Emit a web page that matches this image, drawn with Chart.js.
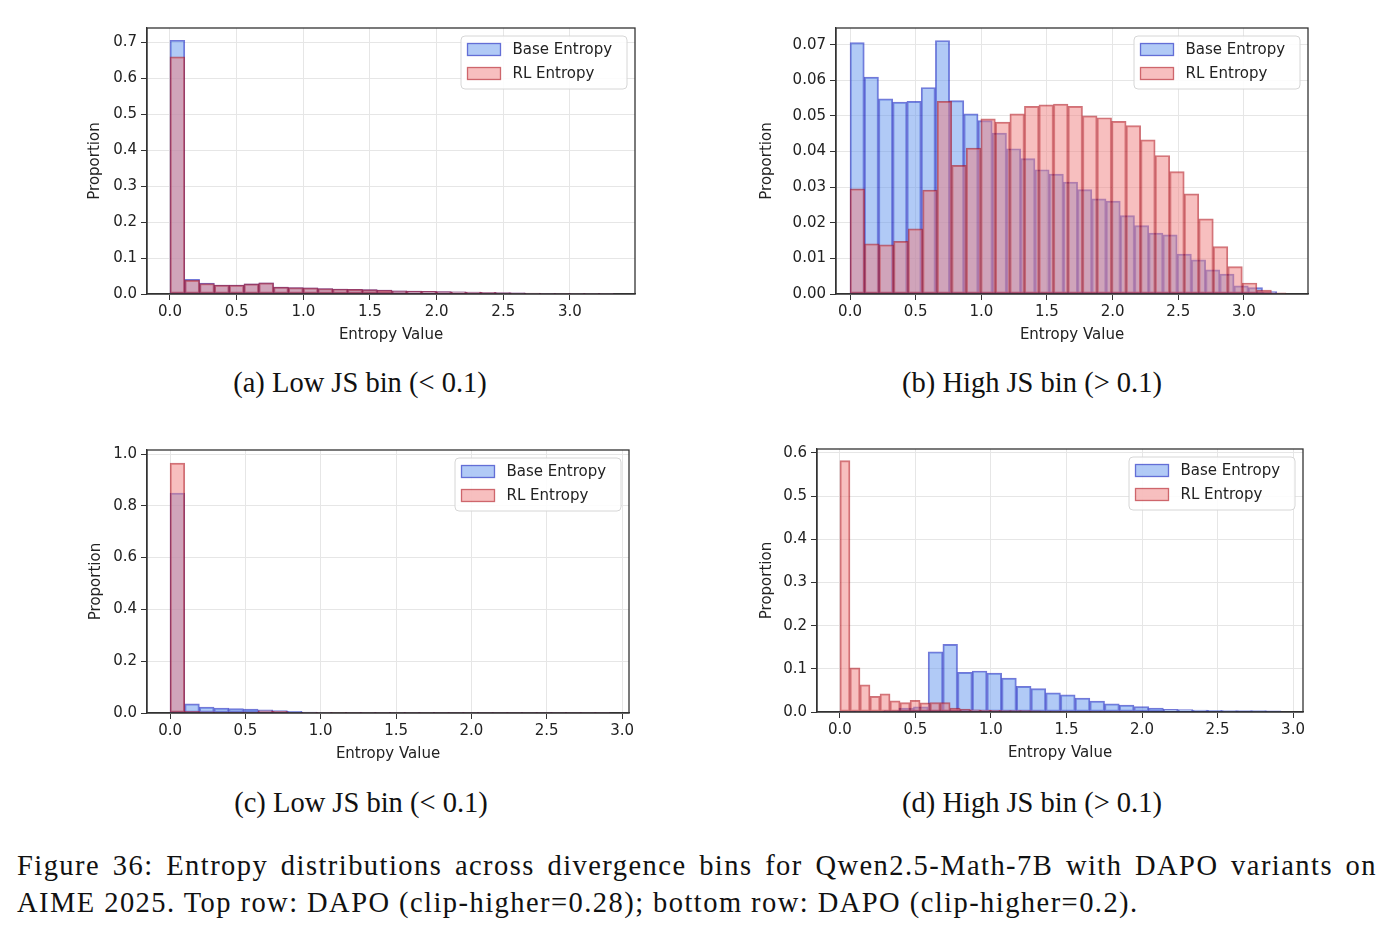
<!DOCTYPE html>
<html>
<head>
<meta charset="utf-8">
<script src="https://cdn.jsdelivr.net/npm/chart.js@4.4.1/dist/chart.umd.min.js"></script>
<style>
    body { margin: 0; background: #fff; width: 1393px; height: 947px; position: relative; overflow: hidden; }
    canvas { position: absolute; }
    .cap { position: absolute; font-family: 'Liberation Serif', 'Times New Roman', serif; font-size: 28.5px; line-height: 37px; color: #111; white-space: nowrap; }
    .sub { text-align: center; width: 400px; }
    .fig { letter-spacing: 1.45px; }
</style>
</head>
<body>
<canvas id="chart-a"></canvas>
<canvas id="chart-b"></canvas>
<canvas id="chart-c"></canvas>
<canvas id="chart-d"></canvas>

<div class="cap sub" id="cap-a"></div>
<div class="cap sub" id="cap-b"></div>
<div class="cap sub" id="cap-c"></div>
<div class="cap sub" id="cap-d"></div>
<div class="cap fig" id="fig-line1" style="left:17px; top:847px; width:1360px; text-align:justify; text-align-last:justify; white-space:normal;"></div>
<div class="cap fig" id="fig-line2" style="left:17px; top:884px;"></div>

<script>
// Datos (histogramas de 30 bins, proporción por bin)

const seriesLabels = ['Base Entropy', 'RL Entropy'];
const subCaptions = ['(a) Low JS bin (< 0.1)', '(b) High JS bin (> 0.1)', '(c) Low JS bin (< 0.1)', '(d) High JS bin (> 0.1)'];
const figureCaption = [
    'Figure 36: Entropy distributions across divergence bins for Qwen2.5-Math-7B with DAPO variants on',
    'AIME 2025. Top row: DAPO (clip-higher=0.28); bottom row: DAPO (clip-higher=0.2).'
];
const xTitle = 'Entropy Value';
const yTitle = 'Proportion';

// (a) DAPO clip-higher=0.28, low JS bin
const binRangeBaseA = [0, 3.33];
const binRangeRlA = [0, 3.33];
const baseA = [0.705, 0.041, 0.030, 0.025, 0.025, 0.028, 0.031, 0.019, 0.018, 0.017,
               0.015, 0.014, 0.013, 0.012, 0.011, 0.009, 0.008, 0.0075, 0.0068, 0.006,
               0.0052, 0.0045, 0.0038, 0.003, 0.0022, 0.0016, 0.0011, 0.0007, 0.0005, 0.0003];
const rlA = [0.659, 0.038, 0.029, 0.025, 0.025, 0.028, 0.031, 0.019, 0.018, 0.017,
             0.015, 0.014, 0.013, 0.012, 0.011, 0.009, 0.008, 0.0076, 0.0068, 0.006,
             0.0053, 0.0046, 0.004, 0.0032, 0.0024, 0.0017, 0.0012, 0.0008, 0.0005, 0.0003];

// (b) DAPO clip-higher=0.28, high JS bin
const binRangeBaseB = [0, 3.25];
const binRangeRlB = [0, 3.32];
const baseB = [0.0706, 0.0609, 0.0548, 0.0539, 0.0541, 0.0580, 0.0712, 0.0543, 0.0506, 0.0487,
               0.0452, 0.0408, 0.0380, 0.0349, 0.0337, 0.0314, 0.0293, 0.0267, 0.0261, 0.0220,
               0.0192, 0.0171, 0.0166, 0.0112, 0.0096, 0.0068, 0.0056, 0.0023, 0.0018, 0.0007];
const rlB = [0.0295, 0.0141, 0.0138, 0.0148, 0.0183, 0.0292, 0.0541, 0.0361, 0.0410, 0.0492,
             0.0483, 0.0506, 0.0527, 0.0531, 0.0533, 0.0527, 0.0500, 0.0495, 0.0485, 0.0473,
             0.0433, 0.0389, 0.0344, 0.0281, 0.0211, 0.0133, 0.0077, 0.0031, 0.0011, 0.0003];

// (c) DAPO clip-higher=0.2, low JS bin
const binRangeBaseC = [0, 2.92];
const binRangeRlC = [0, 2.92];
const baseC = [0.849, 0.035, 0.023, 0.019, 0.017, 0.015, 0.012, 0.0095, 0.006, 0.004,
               0.003, 0.002, 0.0015, 0.001, 0.0008, 0.0006, 0.0005, 0.0004, 0.0003, 0.0003,
               0.0002, 0.0002, 0.0002, 0.0001, 0.0001, 0.0001, 0.0001, 0.0001, 0.0001, 0.0001];
const rlC = [0.965, 0.006, 0.005, 0.004, 0.004, 0.004, 0.008, 0.006, 0.002, 0.001,
             0.0008, 0.0005, 0.0003, 0.0002, 0.0002, 0.0001, 0.0001, 0.0001, 0.0001, 0.0001,
             0.0001, 0.0001, 0.0001, 0.0001, 0.0001, 0.0001, 0.0001, 0.0001, 0.0001, 0.0001];

// (d) DAPO clip-higher=0.2, high JS bin
const binRangeBaseD = [0, 2.92];
const binRangeRlD = [0, 1.99];
const baseD = [0.001, 0.001, 0.0015, 0.003, 0.009, 0.012, 0.1395, 0.1565, 0.092, 0.095,
               0.090, 0.0785, 0.0595, 0.054, 0.0443, 0.0397, 0.032, 0.025, 0.019, 0.016,
               0.0123, 0.0093, 0.0062, 0.0054, 0.0046, 0.004, 0.003, 0.0035, 0.003, 0.0025];
const rlD = [0.582, 0.102, 0.063, 0.036, 0.042, 0.026, 0.022, 0.027, 0.021, 0.022,
             0.022, 0.009, 0.007, 0.005, 0.0045, 0.004, 0.0035, 0.003, 0.003, 0.0025,
             0.002, 0.002, 0.0015, 0.0012, 0.001, 0.0008, 0.0006, 0.0005, 0.0004, 0.0003];

// Colores
const BASE_FILL = 'rgba(100, 149, 237, 0.5)';
const BASE_EDGE = 'rgba(20, 30, 190, 0.6)';
const RL_FILL = 'rgba(240, 128, 128, 0.5)';
const RL_EDGE = 'rgba(175, 20, 30, 0.6)';
const SANS = "'DejaVu Sans', sans-serif";

// Posición de cada panel en la página (área de trazado en px)
const panels = [
    { id: 'a', base: baseA, rl: rlA, baseRange: binRangeBaseA, rlRange: binRangeRlA,
      area: { l: 147, t: 28, r: 635, b: 294 }, titleX: 95, xMin: -0.1725, xMax: 3.488, yMax: 0.739, yStep: 0.1, yDec: 1 },
    { id: 'b', base: baseB, rl: rlB, baseRange: binRangeBaseB, rlRange: binRangeRlB,
      area: { l: 836, t: 28, r: 1308, b: 294 }, titleX: 767, xMin: -0.107, xMax: 3.488, yMax: 0.0747, yStep: 0.01, yDec: 2 },
    { id: 'c', base: baseC, rl: rlC, baseRange: binRangeBaseC, rlRange: binRangeRlC,
      area: { l: 147, t: 450, r: 629, b: 713 }, titleX: 96, xMin: -0.153, xMax: 3.046, yMax: 1.0155, yStep: 0.2, yDec: 1 },
    { id: 'd', base: baseD, rl: rlD, baseRange: binRangeBaseD, rlRange: binRangeRlD,
      area: { l: 817, t: 449, r: 1303, b: 712 }, titleX: 767, xMin: -0.152, xMax: 3.066, yMax: 0.609, yStep: 0.1, yDec: 1 }
];

// centros de bin para cada histograma
function binPoints(values, range) {
    const w = (range[1] - range[0]) / values.length;
    return values.map((v, i) => ({ x: range[0] + w * (i + 0.5), y: v }));
}

// Marco completo (spines) y leyenda dentro del área
const framePlugin = {
    id: 'frameAndLegend',
    afterDatasetsDraw(chart) {
        const { ctx, chartArea: a } = chart;
        ctx.save();
        ctx.strokeStyle = '#333';
        ctx.lineWidth = 1.3;
        ctx.strokeRect(a.left, a.top, a.right - a.left, a.bottom - a.top);

        // leyenda
        const w = 166, h = 53;
        const x = a.right - 8 - w, y = a.top + 8;
        ctx.beginPath();
        ctx.roundRect(x, y, w, h, 4);
        ctx.fillStyle = 'rgba(255,255,255,0.85)';
        ctx.fill();
        ctx.strokeStyle = '#d6d6d6';
        ctx.lineWidth = 1;
        ctx.stroke();

        const items = [
            { label: seriesLabels[0], fill: BASE_FILL, edge: BASE_EDGE },
            { label: seriesLabels[1], fill: RL_FILL, edge: RL_EDGE }
        ];
        ctx.font = '15px ' + SANS;
        ctx.textBaseline = 'middle';
        items.forEach((it, i) => {
            const cy = y + 13.5 + i * 24;
            ctx.fillStyle = it.fill;
            ctx.fillRect(x + 6.5, cy - 6, 33, 12);
            ctx.strokeStyle = it.edge;
            ctx.lineWidth = 1.3;
            ctx.strokeRect(x + 6.5, cy - 6, 33, 12);
            ctx.fillStyle = '#222';
            ctx.fillText(it.label, x + 51.5, cy + 0.5);
        });
        ctx.restore();
    }
};

function makePanel(p, idx) {
    const padTop = 15, padRight = 20, xAxisH = 54;
    const left = p.titleX - 13;
    const yAxisW = p.area.l - left;
    const canvas = document.getElementById('chart-' + p.id);
    const cw = p.area.r + padRight - left;
    const ch = padTop + (p.area.b - p.area.t) + xAxisH;
    canvas.width = cw;
    canvas.height = ch;
    canvas.style.left = left + 'px';
    canvas.style.top = (p.area.t - padTop) + 'px';
    canvas.style.width = cw + 'px';
    canvas.style.height = ch + 'px';

    const tickFont = { family: SANS, size: 15 };

    new Chart(canvas.getContext('2d'), {
        type: 'bar',
        data: {
            datasets: [
                {
                    label: seriesLabels[0],
                    data: binPoints(p.base, p.baseRange),
                    xAxisID: 'x',
                    backgroundColor: BASE_FILL,
                    borderColor: BASE_EDGE,
                    borderWidth: 1.3,
                    borderSkipped: false,
                    order: 2
                },
                {
                    label: seriesLabels[1],
                    data: binPoints(p.rl, p.rlRange),
                    xAxisID: 'x2',
                    backgroundColor: RL_FILL,
                    borderColor: RL_EDGE,
                    borderWidth: 1.3,
                    borderSkipped: false,
                    order: 1
                }
            ]
        },
        options: {
            responsive: false,
            animation: false,
            events: [],
            layout: { padding: { top: padTop, right: padRight, left: 0, bottom: 0 } },
            datasets: { bar: { barPercentage: 1, categoryPercentage: 1, grouped: false } },
            plugins: { legend: { display: false }, tooltip: { enabled: false } },
            scales: {
                x: {
                    type: 'linear', position: 'bottom', min: p.xMin, max: p.xMax, offset: false,
                    grid: { color: '#e6e6e6', tickColor: '#333', tickLength: 6, offset: false },
                    border: { color: '#333', width: 1.3 },
                    ticks: { stepSize: 0.5, includeBounds: false, padding: 3, color: '#222', font: tickFont,
                             maxRotation: 0, autoSkip: false, callback: v => v.toFixed(1) },
                    title: { display: true, text: xTitle, color: '#222', font: tickFont, padding: { top: 4, bottom: 4 } },
                    afterFit: s => { s.height = xAxisH; }
                },
                x2: {
                    type: 'linear', position: 'bottom', min: p.xMin, max: p.xMax, offset: false, display: false,
                    ticks: { stepSize: 0.5, includeBounds: false }
                },
                y: {
                    type: 'linear', min: 0, max: p.yMax,
                    grid: { color: '#e6e6e6', tickColor: '#333', tickLength: 6 },
                    border: { color: '#333', width: 1.3 },
                    ticks: { stepSize: p.yStep, includeBounds: false, padding: 4, color: '#222', font: tickFont,
                             callback: v => v.toFixed(p.yDec) },
                    title: { display: true, text: yTitle, color: '#222', font: tickFont, padding: { top: 4, bottom: 4 } },
                    afterFit: s => { s.width = yAxisW; }
                }
            }
        },
        plugins: [framePlugin]
    });

    // subtítulo
    const cap = document.getElementById('cap-' + p.id);
    cap.textContent = subCaptions[idx];
}

panels.forEach(makePanel);

// posición de subtítulos (centro x, línea superior)
const capPos = { a: [360, 364], b: [1032, 364], c: [361, 784], d: [1032, 784] };
Object.keys(capPos).forEach(k => {
    const el = document.getElementById('cap-' + k);
    el.style.left = (capPos[k][0] - 200) + 'px';
    el.style.top = capPos[k][1] + 'px';
});
document.getElementById('fig-line1').textContent = figureCaption[0];
document.getElementById('fig-line2').textContent = figureCaption[1];
</script>
</body>
</html>
